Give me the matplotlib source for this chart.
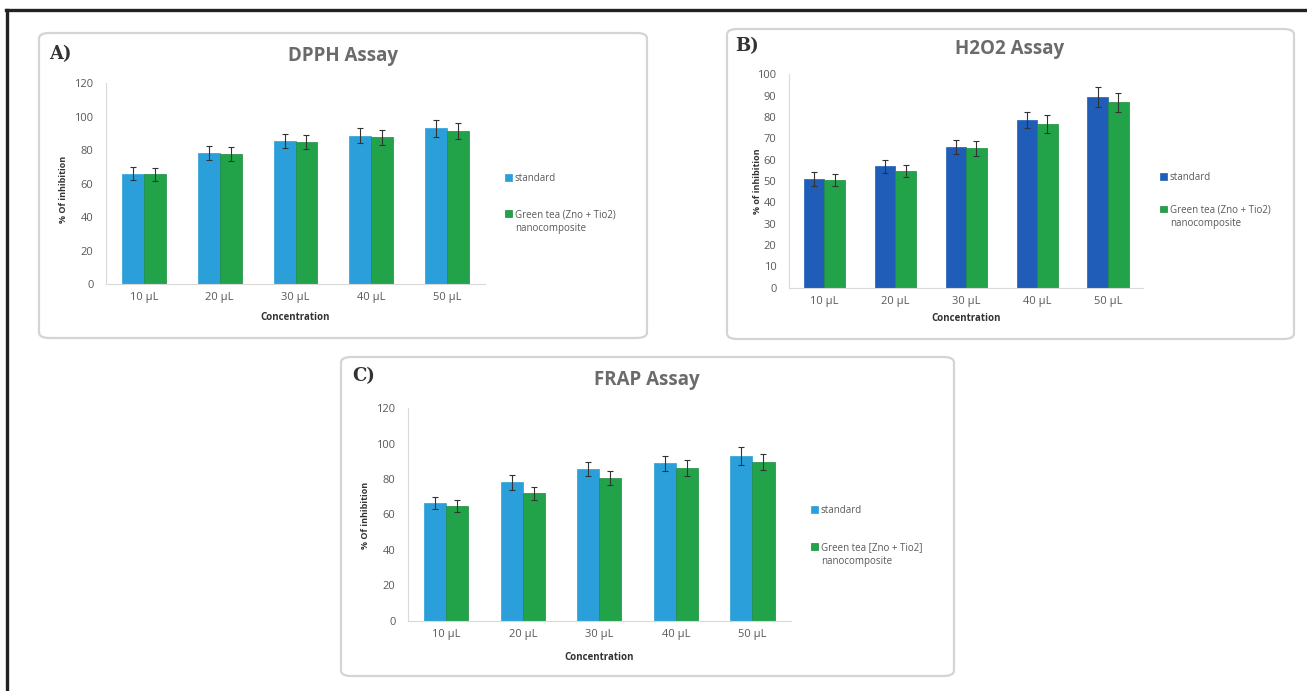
import matplotlib
matplotlib.use("Agg")
import matplotlib.pyplot as plt
from matplotlib.patches import FancyBboxPatch
from matplotlib.lines import Line2D
import numpy as np

W, H = 1307, 691
DPI = 100

categories = ["10 µL", "20 µL", "30 µL", "40 µL", "50 µL"]

dpph_standard = [66.0, 78.5, 85.5, 88.7, 93.1]
dpph_green = [65.6, 77.7, 85.1, 87.7, 91.5]
dpph_std_err = [3.8, 4.2, 4.2, 4.5, 5.0]
dpph_green_err = [3.8, 4.2, 4.2, 4.5, 5.0]

h2o2_standard = [50.8, 56.8, 66.1, 78.6, 89.5]
h2o2_green = [50.5, 54.8, 65.3, 76.7, 86.9]
h2o2_std_err = [3.2, 3.0, 3.3, 3.8, 4.6]
h2o2_green_err = [3.0, 2.9, 3.4, 4.2, 4.5]

frap_standard = [66.3, 78.2, 85.7, 88.9, 93.0]
frap_green = [64.8, 72.0, 80.4, 86.4, 89.8]
frap_std_err = [3.4, 4.2, 4.2, 4.2, 5.0]
frap_green_err = [3.2, 3.6, 4.0, 4.4, 4.5]

series_labels_a = ["standard", "Green tea (Zno + Tio2)", "nanocomposite"]
series_labels_b = ["standard", "Green tea (Zno + Tio2)", "nanocomposite"]
series_labels_c = ["standard", "Green tea [Zno + Tio2]", "nanocomposite"]

LIGHT_BLUE = "#2b9fd9"
DARK_BLUE = "#1f5db8"
GREEN = "#22a349"
TXT = "#595959"
FONT = ["Open Sans", "DejaVu Sans"]

plt.rcParams["font.family"] = FONT

fig = plt.figure(figsize=(W / DPI, H / DPI), dpi=DPI)
fig.patch.set_facecolor("white")


def fx(x):
    return x / W


def fy(y):
    return 1 - y / H


def add_axes_px(x0, y0, x1, y1):
    return fig.add_axes([fx(x0), fy(y1), (x1 - x0) / W, (y1 - y0) / H])


def panel_box(x0, y0, x1, y1):
    p = FancyBboxPatch((fx(x0), fy(y1)), (x1 - x0) / W, (y1 - y0) / H,
                       boxstyle="round,pad=0,rounding_size=0.008",
                       transform=fig.transFigure, facecolor="white",
                       edgecolor="#d6d3d0", linewidth=1.6, zorder=-5)
    fig.patches.append(p)


# outer frame lines (top and left)
fig.add_artist(Line2D([fx(6), 1], [fy(10), fy(10)], color="#222222", lw=2.4,
                      transform=fig.transFigure, zorder=-4))
fig.add_artist(Line2D([fx(7), fx(7)], [fy(10), 0], color="#222222", lw=2.4,
                      transform=fig.transFigure, zorder=-4))

panel_box(39, 33, 647, 338)
panel_box(727, 29, 1294, 339)
panel_box(341, 357, 954, 676)

legends = []


def draw_panel(ax_px, ylim, yticks, std, grn, std_err, grn_err, blue, title,
               title_xy, letter, letter_xy, ylabel, ylabel_xy, xlabel_y,
               legend_xy, labels, spacing):
    ax = add_axes_px(*ax_px)
    ax.set_zorder(2)
    x = np.arange(len(categories))
    bw = 0.29
    ekw = dict(ecolor="#333333", elinewidth=0.8, capsize=2.5, capthick=0.8)
    b1 = ax.bar(x - bw / 2, std, bw, color=blue, edgecolor=blue, linewidth=0.5,
                yerr=std_err, error_kw=ekw)
    b2 = ax.bar(x + bw / 2, grn, bw, color=GREEN, edgecolor="#1b8a3c",
                linewidth=0.5, yerr=grn_err, error_kw=ekw)
    ax.set_xlim(-0.5, len(categories) - 0.5)
    ax.set_ylim(*ylim)
    ax.set_yticks(yticks)
    ax.set_xticks(x)
    ax.set_xticklabels(categories)
    ax.tick_params(axis="both", length=0, labelsize=8, colors=TXT)
    ax.tick_params(axis="y", pad=9)
    ax.tick_params(axis="x", pad=6)
    for s in ["top", "right"]:
        ax.spines[s].set_visible(False)
    ax.spines["left"].set_color("#d9d9d9")
    ax.spines["bottom"].set_color("#d9d9d9")
    ax.set_facecolor("none")
    fig.text(fx(title_xy[0]), fy(title_xy[1]), title, ha="center", va="center",
             fontsize=13.5, fontweight="bold", color="#6b6b6b")
    fig.text(fx(letter_xy[0]), fy(letter_xy[1]), letter, ha="left", va="center",
             fontsize=13, fontweight="bold", color="#333333",
             family=["DejaVu Serif"])
    fig.text(fx(ylabel_xy[0]), fy(ylabel_xy[1]), ylabel, rotation=90,
             ha="center", va="center", fontsize=6.5, fontweight="bold",
             color="#333333")
    ax_center_x = (ax_px[0] + ax_px[2]) / 2
    fig.text(fx(ax_center_x), fy(xlabel_y), "Concentration", ha="center",
             va="center", fontsize=7, fontweight="bold", color="#333333")
    leg = ax.legend([b1, b2], labels[:2], loc="upper left",
                    bbox_to_anchor=(fx(legend_xy[0]), fy(legend_xy[1])),
                    bbox_transform=fig.transFigure, frameon=False,
                    fontsize=7, handlelength=0.7, handleheight=0.7,
                    handletextpad=0.3, labelspacing=spacing, borderpad=0,
                    borderaxespad=0)
    for t in leg.get_texts():
        t.set_color(TXT)
    legends.append((leg, labels[2]))
    return ax


draw_panel((106, 83.3, 485, 284), (0, 120), range(0, 121, 20),
           dpph_standard, dpph_green, dpph_std_err, dpph_green_err, LIGHT_BLUE,
           "DPPH Assay", (343, 56), "A)", (49, 54), "% Of inhibition", (63, 189),
           317, (505, 173), series_labels_a, 2.6)

draw_panel((789, 74.3, 1143.4, 287.7), (0, 100), range(0, 101, 10),
           h2o2_standard, h2o2_green, h2o2_std_err, h2o2_green_err, DARK_BLUE,
           "H2O2 Assay", (1010, 49), "B)", (735, 46), "% of inhibition",
           (758, 181), 319, (1160, 172), series_labels_b, 2.2)

draw_panel((408, 408.3, 790.6, 620.7), (0, 120), range(0, 121, 20),
           frap_standard, frap_green, frap_std_err, frap_green_err, LIGHT_BLUE,
           "FRAP Assay", (647, 380), "C)", (352, 376), "% Of inhibition",
           (365, 515), 657, (811, 505), series_labels_c, 2.7)

# second line of the long legend label, aligned under the first line
fig.canvas.draw()
inv = fig.transFigure.inverted()
for leg, extra in legends:
    t = leg.get_texts()[1]
    bb = t.get_window_extent()
    x0, y0 = inv.transform((bb.x0, bb.y0 - 3))
    fig.text(x0, y0, extra, ha="left", va="top", fontsize=7, color=TXT)

fig.savefig("out.png", dpi=DPI, facecolor="white")
